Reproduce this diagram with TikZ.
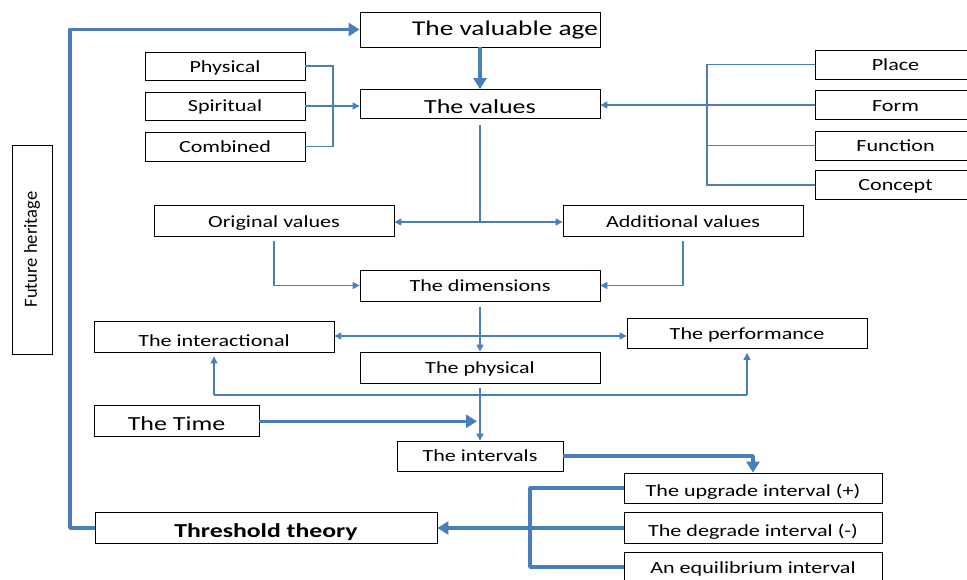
\documentclass[tikz,border=0pt]{standalone}
\usepackage{fontspec}
\setmainfont[FakeStretch=1.3]{Carlito}
\newfontfamily\plainfont{Carlito}
\usetikzlibrary{arrows.meta}
\definecolor{lineblue}{RGB}{74,126,187}
\begin{document}
\begin{tikzpicture}[x=1pt,y=-1pt,
  box/.style={draw=black,line width=0.8pt,fill=white,inner sep=0pt,align=center,
    text height=12.4pt,text depth=0pt,
    font=\fontsize{17}{20}\selectfont},
  base/.style={text height=#1},
  thinl/.style={draw=lineblue,line width=1.2pt},
  thinarrow/.style={thinl,-{Triangle[length=7pt,width=7pt]}},
  thinboth/.style={thinl,{Triangle[length=7pt,width=7pt]}-{Triangle[length=7pt,width=7pt]}},
  thickl/.style={draw=lineblue,line width=3.6pt,line join=round},
  thickarrow/.style={thickl,-{Triangle[length=11pt,width=13pt]}}]
\useasboundingbox (0,0) rectangle (967,580);
% nodes
\node[box,base=13pt,minimum width=240,minimum height=35,font=\fontsize{21}{24}\selectfont] (age) at (480,29.5) {\hspace*{50pt}The valuable age};
\node[box,base=13pt,minimum width=160,minimum height=28] (phys) at (225,66) {Physical};
\node[box,base=11.6pt,minimum width=160,minimum height=28] (spir) at (225,106) {Spiritual};
\node[box,base=11.6pt,minimum width=160,minimum height=29] (comb) at (225,146.5) {Combined};
\node[box,base=18.6pt,minimum width=240,minimum height=29,font=\fontsize{20}{23}\selectfont] (values) at (480,104) {The values};
\node[box,base=13pt,minimum width=161,minimum height=29] (place) at (895.5,64.5) {Place};
\node[box,minimum width=161,minimum height=29] (form) at (895.5,105) {Form};
\node[box,minimum width=161,minimum height=29] (func) at (895.5,145.5) {Function};
\node[box,base=11.6pt,minimum width=161,minimum height=29] (concept) at (895.5,185) {Concept};
\node[box,minimum width=40,minimum height=209] (fut) at (32,249.5) {};
\node[rotate=90,font=\plainfont\fontsize{18.5}{20}\selectfont,inner sep=0pt] (futtext) at (fut.center) {Future heritage};
\node[box,base=13.2pt,minimum width=240,minimum height=31] (orig) at (274,220.5) {Original values};
\node[box,base=13.4pt,minimum width=240,minimum height=31] (addv) at (683,220.5) {Additional values};
\node[box,minimum width=240,minimum height=31] (dims) at (480,285.5) {The dimensions};
\node[box,base=19pt,minimum width=240,minimum height=31] (inter) at (214,336.5) {The interactional};
\node[box,base=12.6pt,minimum width=240,minimum height=30] (perf) at (747,333.5) {The performance};
\node[box,base=11.8pt,minimum width=240,minimum height=31] (physd) at (480,367.5) {The physical};
\node[box,base=17.4pt,minimum width=165,minimum height=31,font=\fontsize{20}{23}\selectfont] (time) at (176.5,421.3) {The Time};
\node[box,base=11.6pt,minimum width=166,minimum height=30] (intv) at (480,456) {The intervals};
\node[box,base=17.4pt,minimum width=258,minimum height=30] (up) at (753,488) {The upgrade interval (+)};
\node[box,base=17.4pt,minimum width=258,minimum height=31] (down) at (753,528) {The degrade interval (-)};
\node[box,base=12.6pt,minimum width=258,minimum height=30] (eq) at (753,567) {An equilibrium interval};
\node[box,base=19.4pt,minimum width=342,minimum height=31,font=\bfseries\fontsize{19.8}{22}\selectfont] (thr) at (266,528) {Threshold theory};
% helper coordinates
\coordinate (loopx) at (70,0);
\coordinate (ltrunk) at (333,0);
\coordinate (rtrunk) at (707,0);
\coordinate (hsplit) at (0,222);
\coordinate (h1) at (0,336);
\coordinate (h2) at (0,395);
\coordinate (btr) at (530,0);
% connectors
\draw[thickarrow] (thr.west) -- (thr.west -| loopx) |- (age.west);
\draw[thickarrow] (age.south) -- (values.north);
\draw[thinl] (phys.east) -- (phys.east -| ltrunk) -- (comb.east -| ltrunk) -- (comb.east);
\draw[thinarrow] (spir.east) -- (values.west |- spir.east);
\draw[thinl] (place.west) -- (place.west -| rtrunk) -- (concept.west -| rtrunk) -- (concept.west);
\draw[thinl] (form.west) -- (form.west -| rtrunk);
\draw[thinl] (func.west) -- (func.west -| rtrunk);
\draw[thinarrow] (rtrunk |- form.west) -- (values.east |- form.west);
\draw[thinl,shorten <=6pt] (values.south) -- (values.south |- hsplit);
\draw[thinboth] (orig.east |- hsplit) -- (addv.west |- hsplit);
\draw[thinarrow,shorten <=5pt] (orig.south) |- (dims.west);
\draw[thinarrow,shorten <=5pt] (addv.south) |- (dims.east);
\draw[thinarrow,shorten <=6pt] (dims.south) -- (physd.north);
\draw[thinboth] (inter.east |- h1) -- (perf.west |- h1);
\draw[thinarrow,shorten <=5pt] (physd.south) -- (intv.north);
\draw[thinl] (inter.south |- h2) -- (perf.south |- h2);
\draw[thinarrow,shorten >=4pt] (inter.south |- h2) -- (inter.south);
\draw[thinarrow,shorten >=4pt] (perf.south |- h2) -- (perf.south);
\draw[thickarrow,shorten >=3pt] (time.east) -- (time.east -| intv.north);
\draw[thickarrow] (intv.east) -| (up.north);
\draw[thickl] (up.west) -- (up.west -| btr) -- (eq.west -| btr) -- (eq.west);
\draw[thickl] (down.west) -- (down.west -| btr);
\draw[thickarrow] (down.west -| btr) -- (thr.east);
\end{tikzpicture}
\end{document}
